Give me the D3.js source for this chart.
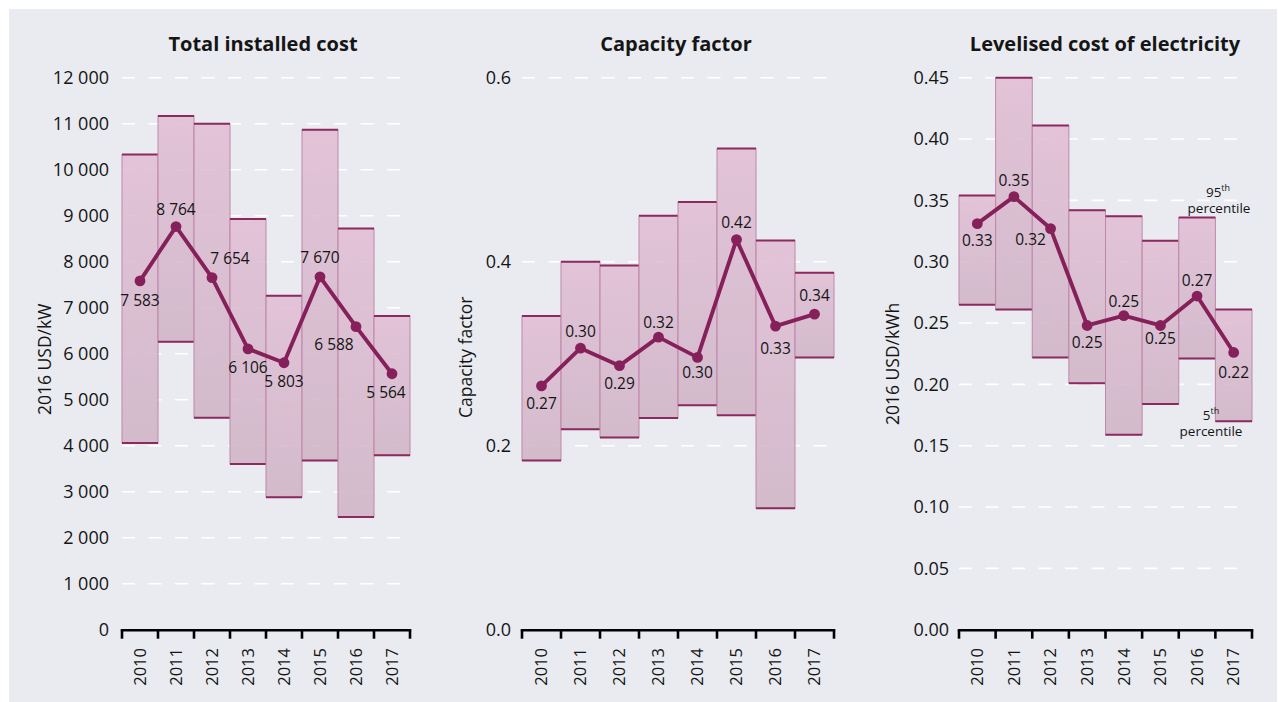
<!DOCTYPE html>
<html><head><meta charset="utf-8">
<script src="https://cdn.jsdelivr.net/npm/d3@7/dist/d3.min.js"></script>
<style>
body{margin:0;background:#fff}
svg{display:block}
text{font-family:"Open Sans",sans-serif;fill:#151515}
</style>
</head><body>
<svg id="chart" width="1278" height="702"></svg>
<script>
// ---------- DATA ----------
const years = ["2010","2011","2012","2013","2014","2015","2016","2017"];

const costP95 = [10330, 11170, 11000, 8930, 7260, 10870, 8720, 6820];
const costP5  = [4060, 6260, 4610, 3600, 2880, 3680, 2450, 3790];
const costAvg = [7583, 8764, 7654, 6106, 5803, 7670, 6588, 5564];
const costLabels = ["7 583","8 764","7 654","6 106","5 803","7 670","6 588","5 564"];
const costTicks = [0,1000,2000,3000,4000,5000,6000,7000,8000,9000,10000,11000,12000];
const costTickLabels = ["0","1 000","2 000","3 000","4 000","5 000","6 000","7 000","8 000","9 000","10 000","11 000","12 000"];

const cfP95 = [0.341, 0.400, 0.396, 0.450, 0.465, 0.523, 0.423, 0.388];
const cfP5  = [0.184, 0.218, 0.209, 0.230, 0.244, 0.233, 0.132, 0.296];
const cfAvg = [0.265, 0.306, 0.287, 0.318, 0.296, 0.424, 0.330, 0.343];
const cfLabels = ["0.27","0.30","0.29","0.32","0.30","0.42","0.33","0.34"];
const cfTicks = [0, 0.2, 0.4, 0.6];
const cfTickLabels = ["0.0","0.2","0.4","0.6"];

const lcoeP95 = [0.354, 0.450, 0.411, 0.342, 0.337, 0.317, 0.336, 0.261];
const lcoeP5  = [0.265, 0.261, 0.222, 0.201, 0.159, 0.184, 0.221, 0.170];
const lcoeAvg = [0.331, 0.353, 0.327, 0.248, 0.256, 0.248, 0.272, 0.226];
const lcoeLabels = ["0.33","0.35","0.32","0.25","0.25","0.25","0.27","0.22"];
const lcoeTicks = [0, 0.05, 0.10, 0.15, 0.20, 0.25, 0.30, 0.35, 0.40, 0.45];
const lcoeTickLabels = ["0.00","0.05","0.10","0.15","0.20","0.25","0.30","0.35","0.40","0.45"];

// ---------- LAYOUT ----------
const panels = [
  {title:"Total installed cost", yTitle:"2016 USD/kW", p95:costP95, p5:costP5, avg:costAvg, labels:costLabels,
   ticks:costTicks, tickLabels:costTickLabels, max:12000,
   x0:122, x1:410, gridEnd:404, tickX:109, titleX:263, yTitleX:45, yTitleY:415,
   off:[[0,20],[0,-17],[18,-19],[0,19],[0,19],[0,-19],[-22,18],[-6,19]]},
  {title:"Capacity factor", yTitle:"Capacity factor", p95:cfP95, p5:cfP5, avg:cfAvg, labels:cfLabels,
   ticks:cfTicks, tickLabels:cfTickLabels, max:0.6,
   x0:522, x1:834, gridEnd:829, tickX:511, titleX:676, yTitleX:466, yTitleY:418,
   off:[[0,18],[0,-17],[0,18],[0,-15],[0,15],[0,-17],[0,22],[0,-19]]},
  {title:"Levelised cost of electricity", yTitle:"2016 USD/kWh", p95:lcoeP95, p5:lcoeP5, avg:lcoeAvg, labels:lcoeLabels,
   ticks:lcoeTicks, tickLabels:lcoeTickLabels, max:0.45,
   x0:959, x1:1252, gridEnd:1240, tickX:949, titleX:1105, yTitleX:893, yTitleY:425,
   off:[[0,17],[0,-16],[-20,11],[0,17],[0,-14],[0,13],[0,-16],[0,20]]}
];

const yTop = 77.7, yBot = 629.7;
const lineColor = "#86205a";

const svg = d3.select("#chart");
svg.append("rect").attr("x",9).attr("y",9).attr("width",1268).attr("height",693).attr("fill","#e9ebf0");

const defs = svg.append("defs");
const grad = defs.append("linearGradient").attr("id","barGrad").attr("x1",0).attr("y1",0).attr("x2",0).attr("y2",1);
grad.append("stop").attr("offset","0%").attr("stop-color","#e1bcd3");
grad.append("stop").attr("offset","100%").attr("stop-color","#cfb3c6");

panels.forEach(p => {
  const g = svg.append("g");
  const x = d3.scaleBand().domain(years).range([p.x0, p.x1]).padding(0);
  const y = d3.scaleLinear().domain([0, p.max]).range([yBot, yTop]);

  // title
  g.append("text").attr("x", p.titleX).attr("y", 51).attr("text-anchor","middle")
    .attr("font-size", 20).attr("font-weight", 700).text(p.title);

  // gridlines
  g.selectAll(".grid").data(p.ticks.filter(t => t > 0)).join("line")
    .attr("x1", p.x0).attr("x2", p.gridEnd)
    .attr("y1", d => y(d)).attr("y2", d => y(d))
    .attr("stroke","#ffffff").attr("stroke-width",1.6).attr("stroke-dasharray","13,13.5");

  // tick labels
  g.selectAll(".tl").data(p.ticks).join("text")
    .attr("x", p.tickX).attr("y", d => y(d)).attr("dy","0.35em")
    .attr("text-anchor","end").attr("font-size",18)
    .text((d,i) => p.tickLabels[i]);

  // y title
  g.append("text").attr("transform", `translate(${p.yTitleX},${p.yTitleY}) rotate(-90)`)
    .attr("dy","0.35em").attr("text-anchor","start").attr("font-size",17.5).text(p.yTitle);

  // bars
  const bars = g.selectAll(".bar").data(years).join("g");
  bars.append("rect")
    .attr("x", d => x(d)).attr("width", x.bandwidth())
    .attr("y", (d,i) => y(p.p95[i])).attr("height", (d,i) => y(p.p5[i]) - y(p.p95[i]))
    .attr("fill","url(#barGrad)").attr("fill-opacity",0.86)
    .attr("stroke","#bf88aa").attr("stroke-width",1);
  bars.append("line")
    .attr("x1", d => x(d)).attr("x2", d => x(d) + x.bandwidth())
    .attr("y1", (d,i) => y(p.p95[i])).attr("y2", (d,i) => y(p.p95[i]))
    .attr("stroke","#8c2a60").attr("stroke-width",2);
  bars.append("line")
    .attr("x1", d => x(d)).attr("x2", d => x(d) + x.bandwidth())
    .attr("y1", (d,i) => y(p.p5[i])).attr("y2", (d,i) => y(p.p5[i]))
    .attr("stroke","#8c2a60").attr("stroke-width",2);

  // axis
  g.append("line").attr("x1", p.x0 - 1.2).attr("x2", p.x1 + 1.2).attr("y1", yBot + 0.5).attr("y2", yBot + 0.5)
    .attr("stroke","#000").attr("stroke-width",2.6);
  const bounds = years.map(d => x(d)).concat([p.x1]);
  g.selectAll(".tick").data(bounds).join("line")
    .attr("x1", d => d).attr("x2", d => d).attr("y1", yBot).attr("y2", yBot + 9)
    .attr("stroke","#000").attr("stroke-width",2.6);
  g.selectAll(".yl").data(years).join("text")
    .attr("transform", d => `translate(${x(d) + x.bandwidth()/2},648) rotate(-90)`)
    .attr("dy","0.35em").attr("text-anchor","end").attr("font-size",16.5).text(d => d);

  // line
  const line = d3.line().x((d,i) => x(years[i]) + x.bandwidth()/2).y(d => y(d));
  g.append("path").datum(p.avg).attr("d", line).attr("fill","none")
    .attr("stroke", lineColor).attr("stroke-width",3.9).attr("stroke-linejoin","round");
  g.selectAll(".pt").data(p.avg).join("circle")
    .attr("cx", (d,i) => x(years[i]) + x.bandwidth()/2).attr("cy", d => y(d))
    .attr("r",5.4).attr("fill", lineColor);

  // labels
  g.selectAll(".lab").data(p.avg).join("text")
    .attr("x", (d,i) => x(years[i]) + x.bandwidth()/2 + p.off[i][0])
    .attr("y", (d,i) => y(d) + p.off[i][1]).attr("dy","0.36em")
    .attr("text-anchor","middle").attr("font-size",15.5)
    .text((d,i) => p.labels[i]);
});

// percentile annotations (LCOE panel)
const ann = svg.append("g").attr("font-size",13.5);
const t95 = ann.append("text").attr("x",1218).attr("y",197).attr("text-anchor","middle");
t95.append("tspan").text("95");
t95.append("tspan").attr("font-size",9).attr("dy",-6).text("th");
ann.append("text").attr("x",1219).attr("y",213).attr("text-anchor","middle").text("percentile");
const t5 = ann.append("text").attr("x",1211).attr("y",420).attr("text-anchor","middle");
t5.append("tspan").text("5");
t5.append("tspan").attr("font-size",9).attr("dy",-6).text("th");
ann.append("text").attr("x",1211).attr("y",436).attr("text-anchor","middle").text("percentile");
</script>
</body></html>
